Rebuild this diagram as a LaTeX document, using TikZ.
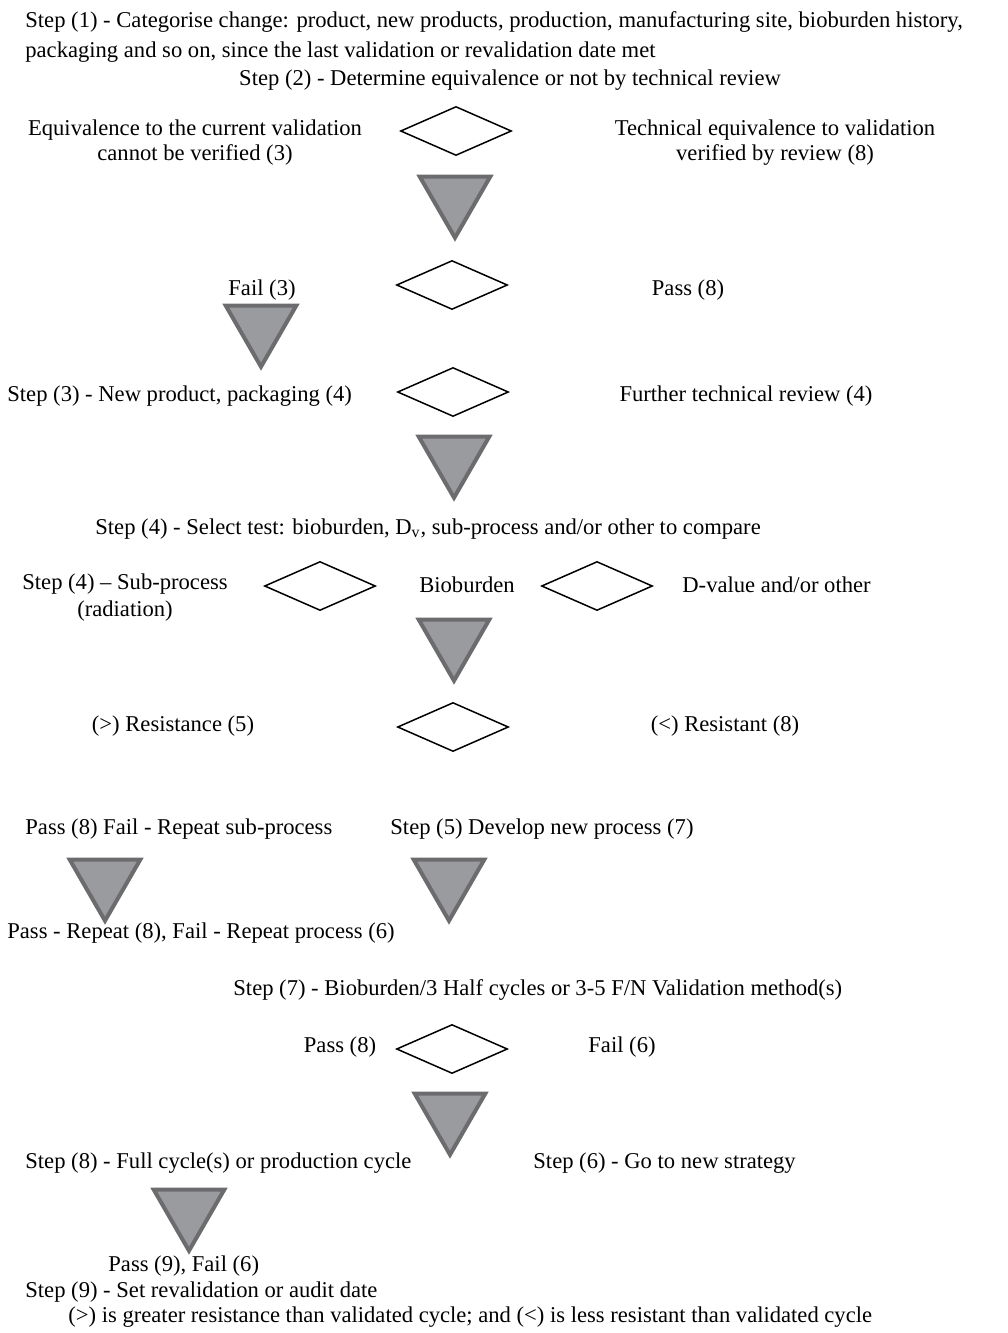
\documentclass[tikz,border=0pt]{standalone}
\usepackage{fontspec}
\setmainfont{Liberation Serif}
\usetikzlibrary{shapes.geometric}
\definecolor{trifill}{RGB}{154,155,158}
\definecolor{triline}{RGB}{108,108,110}
\tikzset{
	txt/.style={inner sep=0pt, font=\fontsize{11.3}{12.5}\selectfont},
	chk/.style={diamond, draw=black, line width=0.75pt, minimum width=55.5pt, minimum height=24.5pt, inner sep=0pt},
	tri/.style={regular polygon, regular polygon sides=3, shape border rotate=180, draw=triline, fill=trifill, line width=2pt, minimum size=40.7pt, inner sep=0pt, outer sep=0pt}
}
\begin{document}
\begin{tikzpicture}[x=0.5pt, y=-0.5pt]
		%%%%% START %%%%%
		\useasboundingbox (0, 0) rectangle (1007, 1333);
		
		\node[txt, anchor=west] (s1a) at (25, 22) {Step (1) - Categorise change: product, new products, production, manufacturing site, bioburden history,};
		\node[txt, anchor=west] (s1b) at (25, 52) {packaging and so on, since the last validation or revalidation date met};
		\node[txt] (s2) at (510, 80) {Step (2) - Determine equivalence or not by technical review};
		
		\node[txt, align=center] (noteq) at (195, 143) {Equivalence to the current validation\\cannot be verified (3)};
		\node[chk] (d1) at (456, 131) {};
		\node[txt, align=center] (teq) at (775, 143) {Technical equivalence to validation\\verified by review (8)};
		\node[tri] (t1) at (455, 197) {};
		
		\node[txt] (fail3) at (262, 290) {Fail (3)};
		\node[chk] (d2) at (452, 285) {};
		\node[txt] (pass8) at (688, 290) {Pass (8)};
		\node[tri] (t2) at (261, 326) {};
		
		\node[txt, anchor=west] (s3) at (7, 396) {Step (3) - New product, packaging (4)};
		\node[chk] (d3) at (453, 392) {};
		\node[txt] (further) at (746, 396) {Further technical review (4)};
		\node[tri] (t3) at (454, 457) {};
		
		\node[txt, anchor=west] (s4) at (95, 529) {Step (4) - Select test: bioburden, D\textsubscript{v}, sub-process and/or other to compare};
		
		\node[txt, align=center] (subproc) at (125, 598) {Step (4) -- Sub-process\\[1pt](radiation)};
		\node[chk] (d4) at (320, 586) {};
		\node[txt] (bio) at (467, 585) {Bioburden};
		\node[chk] (d5) at (597, 586) {};
		\node[txt, anchor=west] (dval) at (682, 585) {D-value and/or other};
		\node[tri] (t4) at (454, 640) {};
		
		\node[txt] (gtres) at (173, 726) {(>) Resistance (5)};
		\node[chk] (d6) at (453, 727) {};
		\node[txt] (ltres) at (725, 726) {(<) Resistant (8)};
		
		\node[txt, anchor=west] (repsub) at (25, 829) {Pass (8) Fail - Repeat sub-process};
		\node[txt, anchor=west] (s5) at (390, 829) {Step (5) Develop new process (7)};
		\node[tri] (t5) at (105, 880) {};
		\node[tri] (t6) at (449, 880) {};
		\node[txt, anchor=west] (repproc) at (7, 933) {Pass - Repeat (8), Fail - Repeat process (6)};
		
		\node[txt, anchor=west] (s7) at (233, 990) {Step (7) - Bioburden/3 Half cycles or 3-5 F/N Validation method(s)};
		
		\node[txt] (pass8b) at (340, 1047) {Pass (8)};
		\node[chk] (d7) at (452, 1049) {};
		\node[txt] (fail6) at (622, 1047) {Fail (6)};
		\node[tri] (t7) at (450, 1114) {};
		
		\node[txt, anchor=west] (s8) at (25, 1163) {Step (8) - Full cycle(s) or production cycle};
		\node[txt, anchor=west] (s6) at (533, 1163) {Step (6) - Go to new strategy};
		\node[tri] (t8) at (189, 1210) {};
		
		\node[txt, anchor=west] (pass9) at (108, 1266) {Pass (9), Fail (6)};
		\node[txt, anchor=west] (s9) at (25, 1292) {Step (9) - Set revalidation or audit date};
		\node[txt, anchor=west] (key) at (68, 1317) {(>) is greater resistance than validated cycle; and (<) is less resistant than validated cycle};
		
		%%%%% END %%%%%
\end{tikzpicture}
\end{document}
